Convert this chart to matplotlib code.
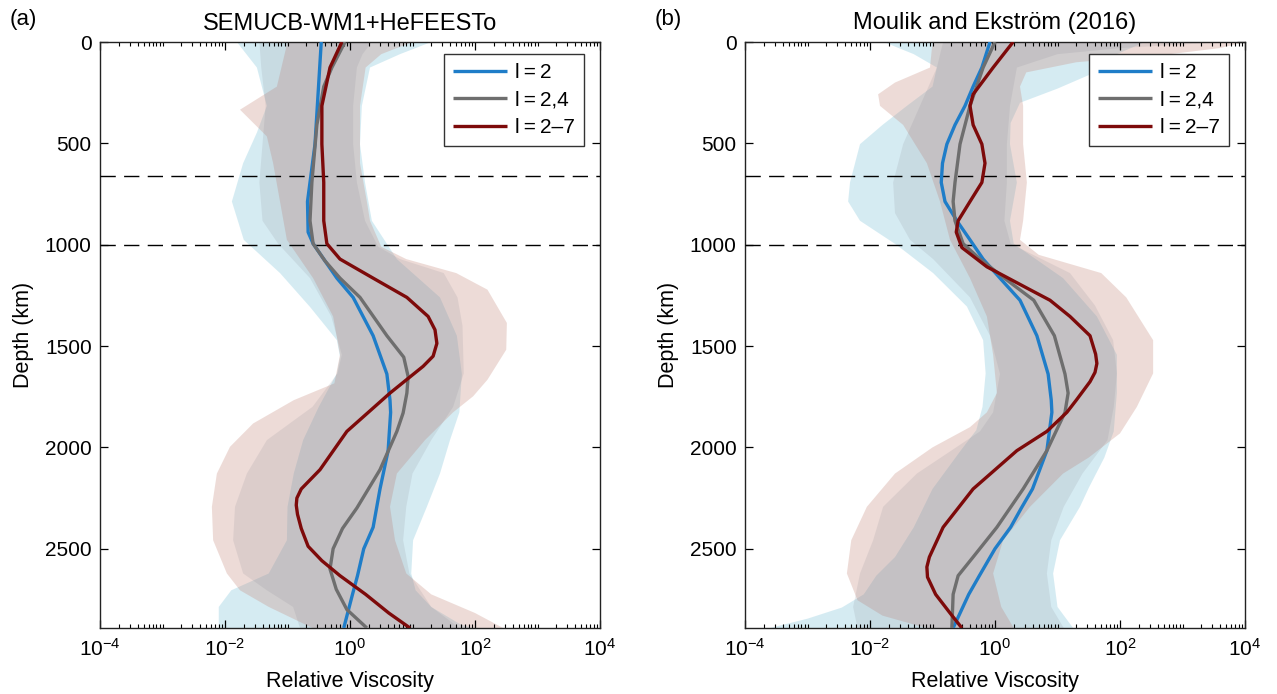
import numpy as np
import matplotlib
matplotlib.use("Agg")
import matplotlib.pyplot as plt
from matplotlib.ticker import FixedLocator, LogLocator, NullFormatter, LogFormatterSciNotation

plt.rcParams['font.family'] = ['Liberation Sans', 'DejaVu Sans']
plt.rcParams['mathtext.fontset'] = 'custom'
plt.rcParams['mathtext.rm'] = 'Liberation Sans'
plt.rcParams['mathtext.it'] = 'Liberation Sans:italic'

# ---------------- data (depth in km, viscosity as log10 of relative viscosity) -------------
titles = ["SEMUCB-WM1+HeFEESTo", "Moulik and Ekström (2016)"]
panel_tags = ["(a)", "(b)"]
legend_labels = ["l\u2009=\u20092", "l\u2009=\u20092,4", "l\u2009=\u20092–7"]
x_ticks = [1e-4, 1e-2, 1e0, 1e2, 1e4]
y_ticks = [0, 500, 1000, 1500, 2000, 2500]
boundaries = [660, 1000]
cmb_depth = 2891

# Panel (a) mean profiles
dep_l2_a = [0, 504, 787, 938, 995, 1080, 1165, 1260, 1449, 1638, 1767, 1827, 2016, 2205, 2394, 2500, 2633, 2725, 2891]
log_l2_a = [-0.46, -0.56, -0.68, -0.67, -0.59, -0.40, -0.21, 0.05, 0.37, 0.59, 0.64, 0.65, 0.61, 0.48, 0.37, 0.22, 0.12, 0.04, -0.10]
dep_l24_a = [0, 126, 220, 409, 693, 882, 995, 1080, 1165, 1260, 1449, 1555, 1650, 1732, 1830, 1921, 2110, 2299, 2400, 2500, 2600, 2700, 2800, 2891]
log_l24_a = [-0.08, -0.29, -0.42, -0.53, -0.61, -0.64, -0.59, -0.40, -0.16, 0.16, 0.59, 0.86, 0.93, 0.91, 0.85, 0.75, 0.48, 0.11, -0.12, -0.27, -0.32, -0.22, -0.05, 0.27]
dep_l27_a = [0, 126, 315, 504, 693, 882, 995, 1071, 1165, 1260, 1354, 1420, 1487, 1550, 1600, 1732, 1921, 2110, 2205, 2250, 2285, 2330, 2400, 2488, 2559, 2633, 2725, 2817, 2891]
log_l27_a = [-0.13, -0.32, -0.45, -0.45, -0.42, -0.42, -0.37, -0.16, 0.37, 0.91, 1.25, 1.36, 1.39, 1.33, 1.17, 0.64, -0.05, -0.48, -0.78, -0.85, -0.86, -0.84, -0.78, -0.67, -0.45, -0.16, 0.25, 0.62, 0.96]

# Panel (a) envelopes
blue_a_dl = [0, 126, 315, 447, 598, 787, 976, 1140, 1307, 1471, 1553, 1635, 1800, 1964, 2129, 2293, 2458, 2622, 2705, 2787, 2891]
blue_a_xl = [-1.81, -1.49, -1.33, -1.49, -1.71, -1.89, -1.70, -1.12, -0.64, -0.21, -0.16, -0.21, -0.5, -0.75, -0.9, -1.0, -1.01, -1.3, -1.9, -2.1, -2.1]
blue_a_dr = [0, 60, 126, 315, 504, 693, 882, 1071, 1260, 1449, 1638, 1827, 1964, 2129, 2293, 2458, 2622, 2705, 2787, 2870, 2891]
blue_a_xr = [1.30, 0.80, 0.32, 0.19, 0.16, 0.24, 0.35, 0.75, 1.44, 1.71, 1.79, 1.75, 1.6, 1.44, 1.23, 1.01, 0.98, 1.05, 1.3, 1.75, 1.95]
pink_a_dl = [0, 220, 334, 466, 598, 787, 976, 1165, 1354, 1543, 1684, 1767, 1882, 1997, 2129, 2293, 2458, 2622, 2705, 2787, 2891]
pink_a_xl = [-1.0, -1.17, -1.76, -1.33, -1.23, -1.12, -1.01, -0.59, -0.27, -0.16, -0.25, -0.9, -1.55, -1.92, -2.13, -2.21, -2.19, -1.97, -1.76, -1.3, -0.6]
pink_a_dr = [0, 60, 126, 315, 598, 787, 882, 1010, 1071, 1140, 1222, 1386, 1518, 1666, 1748, 1827, 1964, 2129, 2293, 2458, 2622, 2725, 2817, 2891]
pink_a_xr = [1.0, 0.5, 0.25, 0.16, 0.16, 0.27, 0.32, 0.5, 0.9, 1.7, 2.2, 2.51, 2.5, 2.2, 1.97, 1.65, 1.2, 0.75, 0.64, 0.72, 0.9, 1.3, 2.0, 2.45]
grey_a_dl = [0, 126, 315, 504, 693, 882, 995, 1165, 1354, 1543, 1635, 1800, 1964, 2129, 2293, 2458, 2622, 2705, 2787, 2891]
grey_a_xl = [-1.45, -1.42, -1.35, -1.40, -1.45, -1.40, -1.15, -0.64, -0.30, -0.13, -0.2, -0.6, -1.33, -1.65, -1.84, -1.87, -1.71, -1.33, -0.91, -0.8]
grey_a_dr = [0, 60, 126, 315, 504, 693, 882, 1010, 1071, 1140, 1260, 1400, 1635, 1800, 1964, 2129, 2293, 2458, 2622, 2787, 2891]
grey_a_xr = [0.35, 0.2, 0.11, 0.05, 0.05, 0.11, 0.24, 0.45, 0.8, 1.5, 1.72, 1.8, 1.82, 1.65, 1.3, 1.0, 0.9, 0.85, 0.95, 1.3, 1.75]

# Panel (b) mean profiles
dep_l2_b = [0, 126, 220, 315, 409, 504, 598, 693, 787, 882, 976, 1071, 1165, 1274, 1449, 1638, 1767, 1827, 2016, 2205, 2300, 2394, 2500, 2633, 2725, 2891]
log_l2_b = [-0.08, -0.21, -0.35, -0.48, -0.64, -0.77, -0.84, -0.86, -0.80, -0.61, -0.40, -0.19, 0.08, 0.40, 0.67, 0.85, 0.90, 0.91, 0.83, 0.60, 0.42, 0.25, 0.0, -0.25, -0.42, -0.67]
dep_l24_b = [0, 126, 315, 504, 693, 787, 882, 995, 1071, 1165, 1274, 1449, 1638, 1732, 1827, 2016, 2205, 2394, 2541, 2633, 2725, 2891]
log_l24_b = [0.0, -0.19, -0.40, -0.56, -0.64, -0.67, -0.64, -0.51, -0.24, 0.15, 0.62, 0.95, 1.12, 1.17, 1.12, 0.83, 0.45, 0.03, -0.35, -0.59, -0.67, -0.69]
dep_l27_b = [0, 126, 258, 315, 409, 504, 598, 693, 787, 882, 938, 1014, 1109, 1222, 1274, 1354, 1449, 1540, 1586, 1630, 1676, 1767, 1827, 1921, 2016, 2205, 2394, 2541, 2590, 2640, 2725, 2817, 2891]
log_l27_b = [0.29, -0.03, -0.35, -0.40, -0.35, -0.21, -0.16, -0.21, -0.40, -0.59, -0.62, -0.53, -0.13, 0.56, 0.88, 1.20, 1.52, 1.61, 1.63, 1.60, 1.52, 1.30, 1.15, 0.83, 0.35, -0.35, -0.83, -1.05, -1.09, -1.08, -0.95, -0.72, -0.53]

# Panel (b) envelopes
blue_b_dl = [0, 60, 126, 220, 315, 409, 504, 693, 787, 882, 1002, 1140, 1305, 1471, 1635, 1800, 1915, 2016, 2205, 2394, 2541, 2633, 2725, 2790, 2845, 2891]
blue_b_xl = [-1.78, -1.3, -0.93, -1.0, -1.41, -1.8, -2.16, -2.32, -2.35, -2.16, -1.57, -0.99, -0.45, -0.19, -0.15, -0.2, -0.3, -0.55, -1.0, -1.3, -1.6, -1.9, -2.1, -2.45, -3.0, -3.6]
blue_b_dr = [0, 80, 150, 230, 300, 400, 504, 693, 882, 995, 1165, 1354, 1543, 1732, 1921, 2050, 2200, 2293, 2458, 2622, 2787, 2891]
blue_b_xr = [2.4, 1.8, 1.6, 1.0, 0.4, 0.25, 0.24, 0.35, 0.24, 0.30, 1.09, 1.63, 1.95, 1.95, 1.9, 1.75, 1.5, 1.36, 1.04, 0.93, 1.0, 1.25]
pink_b_dl = [0, 126, 200, 258, 315, 409, 598, 787, 976, 1165, 1354, 1543, 1732, 1827, 1900, 2000, 2129, 2293, 2458, 2622, 2754, 2830, 2891]
pink_b_xl = [-1.0, -1.04, -1.6, -1.87, -1.84, -1.47, -1.09, -0.88, -0.72, -0.40, -0.13, -0.03, 0.03, -0.13, -0.4, -1.0, -1.6, -2.05, -2.3, -2.37, -2.2, -1.8, -1.1]
pink_b_dr = [0, 30, 60, 100, 150, 220, 315, 504, 693, 882, 976, 1050, 1140, 1260, 1471, 1635, 1800, 1931, 2050, 2129, 2293, 2458, 2622, 2787, 2891]
pink_b_xr = [4.0, 3.6, 2.8, 1.3, 0.5, 0.4, 0.45, 0.45, 0.51, 0.45, 0.4, 0.7, 1.7, 2.1, 2.53, 2.53, 2.27, 2.0, 1.5, 1.09, 0.56, 0.13, -0.03, 0.1, 0.3]
grey_b_dl = [0, 126, 315, 504, 693, 844, 976, 1071, 1260, 1449, 1638, 1827, 1921, 2016, 2129, 2293, 2458, 2622, 2787, 2891]
grey_b_xl = [-0.83, -0.93, -1.20, -1.47, -1.63, -1.60, -1.36, -0.99, -0.40, -0.08, 0.08, -0.03, -0.24, -0.7, -1.25, -1.79, -1.95, -2.16, -2.27, -2.2]
grey_b_dr = [0, 30, 60, 126, 315, 504, 693, 882, 995, 1140, 1300, 1471, 1635, 1800, 1964, 2129, 2293, 2458, 2622, 2787, 2891]
grey_b_xr = [3.7, 2.0, 1.0, 0.35, 0.24, 0.19, 0.19, 0.15, 0.25, 1.2, 1.6, 1.89, 1.95, 1.9, 1.8, 1.4, 1.1, 0.9, 0.83, 0.9, 1.1]

# ---------------- style -------------
line_colors = ['#1f7dc8', '#6e6e6e', '#7d0a0a']
fill_colors = [(118/255, 192/255, 215/255), (198/255, 138/255, 125/255), (128/255, 128/255, 140/255)]
fill_alphas = [0.30, 0.30, 0.15]

panels = [
    dict(lines=[(dep_l2_a, log_l2_a), (dep_l24_a, log_l24_a), (dep_l27_a, log_l27_a)],
         env=[(blue_a_dl, blue_a_xl, blue_a_dr, blue_a_xr),
              (pink_a_dl, pink_a_xl, pink_a_dr, pink_a_xr),
              (grey_a_dl, grey_a_xl, grey_a_dr, grey_a_xr)]),
    dict(lines=[(dep_l2_b, log_l2_b), (dep_l24_b, log_l24_b), (dep_l27_b, log_l27_b)],
         env=[(blue_b_dl, blue_b_xl, blue_b_dr, blue_b_xr),
              (pink_b_dl, pink_b_xl, pink_b_dr, pink_b_xr),
              (grey_b_dl, grey_b_xl, grey_b_dr, grey_b_xr)]),
]

W, H = 1277, 694
fig = plt.figure(figsize=(W / 100, H / 100), dpi=100)
ax_left_px = [100, 745]

for i, p in enumerate(panels):
    ax = fig.add_axes([ax_left_px[i] / W, 1 - 628 / H, 500 / W, 586 / H])
    ax.set_xscale('log')
    for (dl, xl, dr, xr), fc, fa in zip(p['env'], fill_colors, fill_alphas):
        xs = np.concatenate([np.power(10.0, xl), np.power(10.0, xr[::-1])])
        ys = np.concatenate([dl, dr[::-1]])
        ax.fill(xs, ys, color=fc, alpha=fa, lw=0)
    for b in boundaries:
        ax.axhline(b, color='black', lw=1.0, linestyle=(0, (11, 6)), zorder=3)
    handles = []
    for (d, v), c, lab in zip(p['lines'], line_colors, legend_labels):
        h, = ax.plot(np.power(10.0, v), d, color=c, lw=2.4, label=lab, zorder=4,
                     solid_joinstyle='round', solid_capstyle='butt')
        handles.append(h)

    ax.set_xlim(1e-4, 1e4)
    ax.set_ylim(cmb_depth, 0)
    ax.xaxis.set_major_locator(FixedLocator(x_ticks))
    ax.xaxis.set_major_formatter(LogFormatterSciNotation())
    ax.xaxis.set_minor_locator(LogLocator(base=10, subs=np.arange(1, 10), numticks=40))
    ax.xaxis.set_minor_formatter(NullFormatter())
    ax.set_yticks(y_ticks)
    ax.tick_params(which='both', direction='in', top=True, right=True, labelsize=15, colors='black')
    ax.tick_params(which='major', length=6, width=0.9)
    ax.tick_params(which='minor', length=3, width=0.8)
    ax.tick_params(axis='x', which='major', pad=7)
    ax.tick_params(axis='y', which='major', pad=6)
    for s in ax.spines.values():
        s.set_linewidth(1.0)
        s.set_color('#222222')

    ax.set_xlabel('Relative Viscosity', fontsize=15.5, labelpad=8)
    ax.set_ylabel('Depth (km)', fontsize=15.5, labelpad=8)
    ax.set_title(titles[i], fontsize=17, pad=9)

    leg = ax.legend(handles=handles, loc='upper right', bbox_to_anchor=(0.968, 0.9795),
                    fontsize=15, frameon=True, fancybox=False, framealpha=1,
                    handlelength=2.6, handletextpad=0.35, labelspacing=0.4,
                    borderpad=0.45, borderaxespad=0)
    leg.get_frame().set_edgecolor('#333333')
    leg.get_frame().set_linewidth(1.0)

    fig.text((ax_left_px[i] - 77) / W, 1 - 19 / H, panel_tags[i], fontsize=16,
             ha='center', va='center')

fig.savefig('out.png', dpi=100)
